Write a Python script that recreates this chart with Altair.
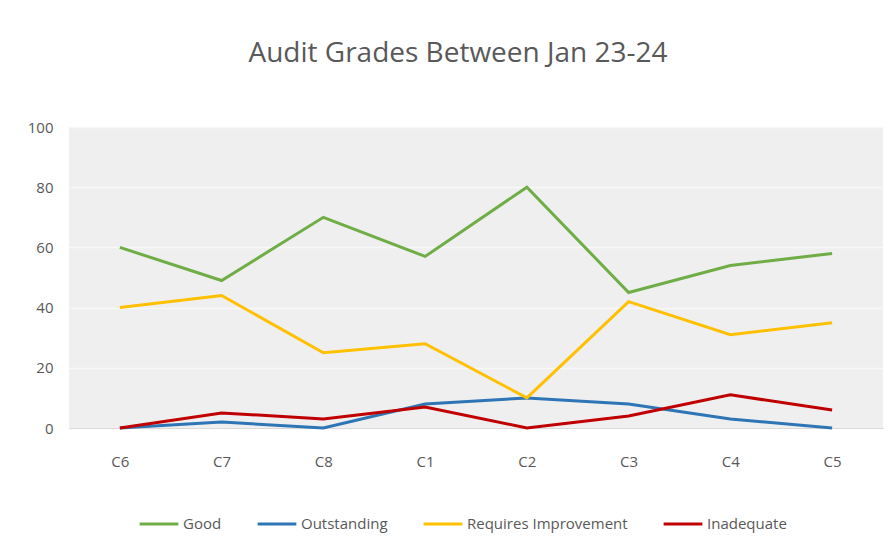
import altair as alt
import pandas as pd

categories = ["C6", "C7", "C8", "C1", "C2", "C3", "C4", "C5"]
series_names = ["Good", "Outstanding", "Requires Improvement", "Inadequate"]
good = [60, 49, 70, 57, 80, 45, 54, 58]
outstanding = [0, 2, 0, 8, 10, 8, 3, 0]
requires_improvement = [40, 44, 25, 28, 10, 42, 31, 35]
inadequate = [0, 5, 3, 7, 0, 4, 11, 6]
colors = ["#70AD47", "#2E75B6", "#FFC000", "#C00000"]
y_ticks = [0, 20, 40, 60, 80, 100]

rows = []
for name, vals in zip(series_names, [good, outstanding, requires_improvement, inadequate]):
    for c, v in zip(categories, vals):
        rows.append({"Centre": c, "Value": v, "Grade": name})
df = pd.DataFrame(rows)

FONT = "Open Sans"
GREY = "#595959"

chart = alt.Chart(df).mark_line(strokeWidth=3).encode(
    x=alt.X("Centre:N", sort=categories, title=None,
            scale=alt.Scale(paddingInner=0, paddingOuter=0.5),
            axis=alt.Axis(labelAngle=0, ticks=False, domain=True, domainColor="#D9D9D9",
                          grid=False, labelPadding=26, labelFontSize=15,
                          labelColor=GREY, labelFont=FONT)),
    y=alt.Y("Value:Q", title=None, scale=alt.Scale(domain=[0, 100], nice=False),
            axis=alt.Axis(values=y_ticks, ticks=False, domain=False, labelPadding=16,
                          labelFontSize=15, labelColor=GREY, labelFont=FONT,
                          gridColor="#F8F8F8", gridWidth=1.5)),
    color=alt.Color("Grade:N", sort=series_names,
                    scale=alt.Scale(domain=series_names, range=colors),
                    legend=alt.Legend(title=None, orient="none", direction="horizontal",
                                      legendX=69, legendY=376, symbolType="stroke",
                                      symbolSize=1500, symbolStrokeWidth=3,
                                      labelFontSize=15, labelColor=GREY, labelFont=FONT,
                                      labelLimit=0, columnPadding=29, labelOffset=3)),
).properties(
    width=814, height=301,
    title=alt.TitleParams("Audit Grades Between Jan 23-24", fontSize=28, font=FONT,
                          fontWeight="normal", color=GREY, anchor="middle", offset=52, dx=-18),
    autosize=alt.AutoSizeParams(type="none"),
    padding={"left": 61, "top": 119, "right": 3, "bottom": 116},
).configure(
    background="white",
    view=alt.ViewConfig(fill="#EFEFEF", stroke=None),
)

chart.save("out.html", embed_options={"renderer": "svg", "actions": False})
